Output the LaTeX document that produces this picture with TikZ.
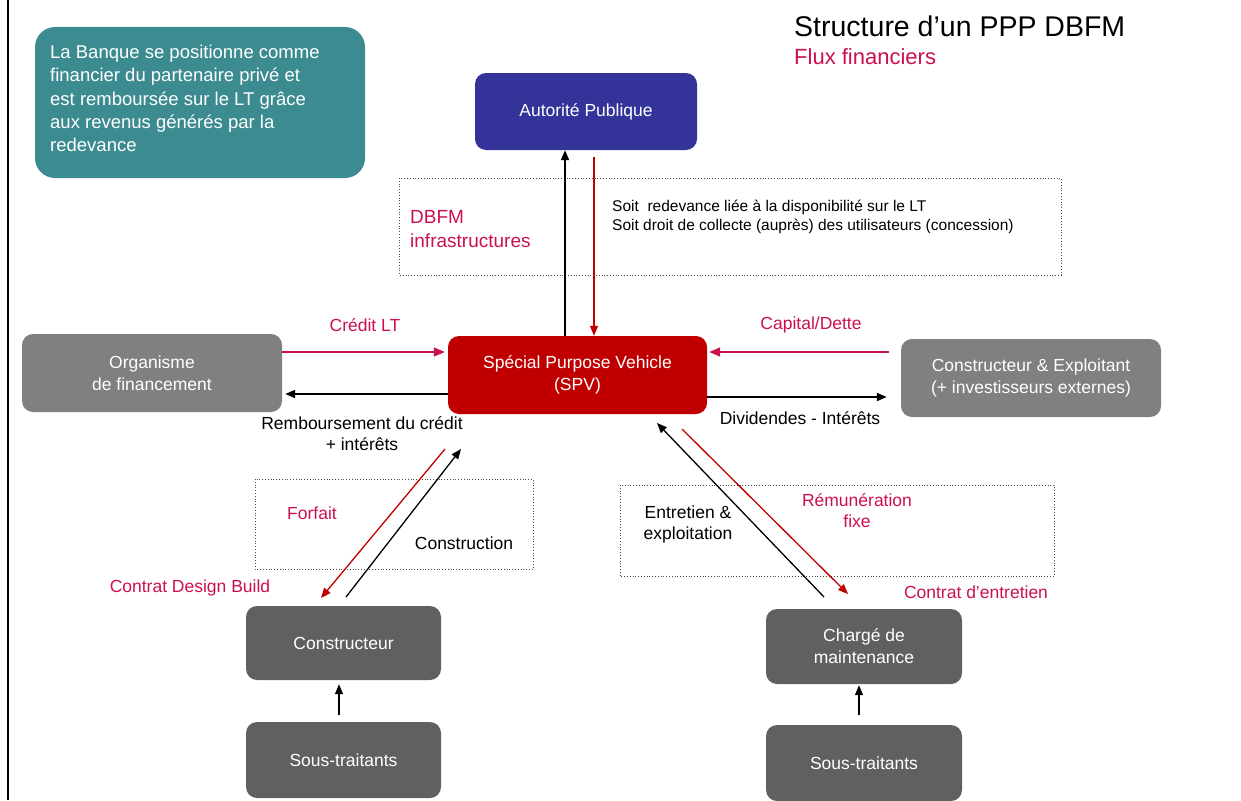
\documentclass[tikz,border=0pt]{standalone}
\usepackage{fontspec}
\setmainfont{Liberation Sans}
\usetikzlibrary{arrows.meta}
\definecolor{tealbox}{RGB}{60,139,145}
\definecolor{navybox}{RGB}{51,51,153}
\definecolor{spvred}{RGB}{192,0,0}
\definecolor{greyA}{RGB}{128,128,128}
\definecolor{greyB}{RGB}{96,96,96}
\definecolor{crim}{RGB}{204,16,76}
\tikzset{
  boxnode/.style={rounded corners=11pt, text=white, align=center, font=\fontsize{17.5}{22}\selectfont, inner sep=0pt},
  lbl/.style={font=\fontsize{17.5}{21}\selectfont, align=center, inner sep=0pt},
  redlbl/.style={lbl, text=crim},
  dotbox/.style={draw=black!70, dotted, line width=0.8pt},
  blkarr/.style={draw=black, line width=1.8pt, -{Triangle[length=10pt,width=8pt]}},
  blkthin/.style={draw=black, line width=1.3pt, -{Triangle[length=10pt,width=8pt]}},
  redarr/.style={draw=spvred, line width=1.3pt, -{Triangle[length=10pt,width=8pt]}},
  crimarr/.style={draw=crim, line width=1.5pt, -{Triangle[length=11pt,width=9pt]}},
}
\begin{document}
\begin{tikzpicture}[x=1pt,y=-1pt]
\useasboundingbox (0,0) rectangle (1241,800);
% left border line
\draw[line width=2.5pt] (8,0) -- (8,800);
% teal info box
\fill[tealbox, rounded corners=20pt] (35,27) rectangle (365,178);
\node[anchor=north west, align=left, text=white, inner sep=0pt, font=\fontsize{18.5}{23.3}\selectfont] (info) at (50,45)
 {La Banque se positionne comme\\financier du partenaire privé et\\est remboursée sur le LT grâce\\aux revenus générés par la\\redevance};
% title
\node[anchor=west, inner sep=0pt, font=\fontsize{28.5}{32}\selectfont] (title) at (794,26) {Structure d’un PPP DBFM};
\node[anchor=west, inner sep=0pt, font=\fontsize{22}{26}\selectfont, text=crim] (subtitle) at (794,57) {Flux financiers};
% dotted boxes
\draw[dotbox] (399,178) rectangle (1061,275);
\draw[dotbox] (255,479) rectangle (533,569);
\draw[dotbox] (620,485) rectangle (1054,576);
% main boxes
\node[boxnode, fill=navybox, minimum width=222pt, minimum height=77pt] (aut) at (586,111.5) {Autorité Publique};
\node[boxnode, fill=spvred, minimum width=259pt, minimum height=78pt] (spv) at (577.5,375) {Spécial Purpose Vehicle\\(SPV)};
\node[boxnode, fill=greyA, minimum width=260pt, minimum height=78pt] (org) at (152,373) {Organisme\\de financement};
\node[boxnode, fill=greyA, minimum width=260pt, minimum height=78pt] (cex) at (1031,378) {Constructeur \& Exploitant\\(+ investisseurs externes)};
\node[boxnode, fill=greyB, minimum width=195pt, minimum height=74pt] (con) at (343.5,643) {Constructeur};
\node[boxnode, fill=greyB, minimum width=195pt, minimum height=76pt] (sst1) at (343.5,760) {Sous-traitants};
\node[boxnode, fill=greyB, minimum width=196pt, minimum height=75pt] (chm) at (864,646.5) {Chargé de\\maintenance};
\node[boxnode, fill=greyB, minimum width=196pt, minimum height=76pt] (sst2) at (864,763) {Sous-traitants};
% labels
\node[redlbl, anchor=west, align=left, font=\fontsize{19}{24}\selectfont] (ldbfm) at (410,229) {DBFM\\infrastructures};
\node[lbl, anchor=west, align=left, font=\fontsize{15.5}{19.5}\selectfont] (lsoit) at (612,217) {Soit\ \ redevance liée à la disponibilité sur le LT\\Soit droit de collecte (auprès) des utilisateurs (concession)};
\node[redlbl] (lcredit) at (365,325) {Crédit LT};
\node[lbl] (lremb) at (362,434) {Remboursement du crédit\\+ intérêts};
\node[redlbl] (lcap) at (811,325) {Capital/Dette};
\node[lbl] (ldiv) at (800,418) {Dividendes - Intérêts};
\node[redlbl] (lforf) at (312,513) {Forfait};
\node[lbl] (lcons) at (464,543) {Construction};
\node[redlbl] (ldb) at (190,588) {Contrat Design Build};
\node[lbl] (lentr) at (688,524) {Entretien \&\\exploitation};
\node[redlbl] (lrem) at (857,511) {Rémunération\\fixe};
\node[redlbl] (lce) at (976,592) {Contrat d’entretien};
% connector end points
\coordinate (d1a) at (445,449);
\coordinate (d1b) at (321,598);
\coordinate (d2a) at (346,597);
\coordinate (d2b) at (461,449);
\coordinate (d3a) at (824,597);
\coordinate (d3b) at (657,423);
\coordinate (d4a) at (682,429);
\coordinate (d4b) at (848,594);
% vertical arrows SPV <-> Autorite
\draw[blkarr] ([xshift=-12.5pt]spv.north) -- ([xshift=-12.5pt]spv.north |- aut.south);
\draw[redarr, shorten <=7pt] ([xshift=8pt]aut.south) -- ([xshift=8pt]aut.south |- spv.north);
% horizontal arrows
\draw[crimarr, shorten >=3pt] ([yshift=21pt]org.east) -- ([yshift=21pt]org.east -| spv.west);
\draw[blkarr, shorten >=3pt] ([yshift=-19pt]spv.west) -- ([yshift=-19pt]spv.west -| org.east);
\draw[crimarr, shorten <=12pt, shorten >=2pt] ([yshift=26pt]cex.west) -- ([yshift=26pt]cex.west -| spv.east);
\draw[blkarr, shorten >=14pt] ([yshift=-22pt]spv.east) -- ([yshift=-22pt]spv.east -| cex.west);
% diagonal arrows
\draw[redarr] (d1a) -- (d1b);
\draw[blkthin] (d2a) -- (d2b);
\draw[blkthin] (d3a) -- (d3b);
\draw[redarr] (d4a) -- (d4b);
% subcontractor arrows
\draw[blkthin, shorten <=7pt, shorten >=4pt] ([xshift=-4.5pt]sst1.north) -- ([xshift=-4.5pt]con.south);
\draw[blkthin, shorten <=10pt, shorten >=1pt] ([xshift=-5pt]sst2.north) -- ([xshift=-5pt]chm.south);
\end{tikzpicture}
\end{document}
